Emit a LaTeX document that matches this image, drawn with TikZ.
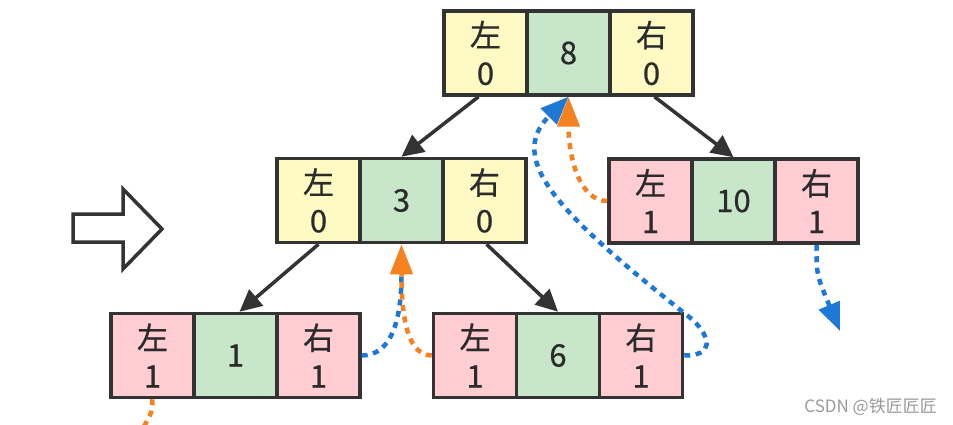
\documentclass[tikz,border=0pt]{standalone}
\usepackage{fontspec}
\setmainfont{Noto Sans CJK SC}[BoldFont=Noto Sans CJK SC,BoldFeatures={FakeBold=0.6}]
\usetikzlibrary{arrows.meta}
\definecolor{cyel}{HTML}{FFF9C4}
\definecolor{cgrn}{HTML}{C8E6C9}
\definecolor{cpnk}{HTML}{FFCDD2}
\definecolor{cborder}{HTML}{333333}
\definecolor{ctext}{HTML}{2B2B2B}
\definecolor{corg}{HTML}{F5821F}
\definecolor{cblu}{HTML}{1E78D6}
\definecolor{cgray}{HTML}{9A9A9A}
\begin{document}
\begin{tikzpicture}[x=1pt,y=-1pt,
  cell/.style={draw=cborder,line width=3.5pt,minimum width=83pt,minimum height=84pt,
    inner sep=0pt,align=center,text=ctext,font=\fontsize{31}{38}\selectfont\bfseries},
  ycell/.style={cell,fill=cyel},
  gcell/.style={cell,fill=cgrn},
  pcell/.style={cell,fill=cpnk},
  barr/.style={draw=cborder,line width=3.5pt,-{Triangle[length=22pt,width=21pt]}},
  odot/.style={draw=corg,line width=4.5pt,dash pattern=on 6pt off 5.5pt},
  bdot/.style={draw=cblu,line width=4.5pt,dash pattern=on 6pt off 5.5pt},
  otip/.style={-{Triangle[length=30pt,width=22pt,fill=corg,color=corg]}},
  btip/.style={-{Triangle[length=28pt,width=22pt,fill=cblu,color=cblu]}}
]
\useasboundingbox (0,0) rectangle (953,425);
\fill[white] (0,0) rectangle (953,425);

% big hollow arrow
\draw[cborder,line width=3.5pt,line join=miter]
  (73,214) -- (123,214) -- (123,189) -- (162,229) -- (123,269) -- (123,242) -- (73,242) -- cycle;

% top node 8
\node[ycell] (tl) at (485.5,53) {左\\0};
\node[gcell] (tm) at (568.5,53) {\raisebox{-3pt}{8}};
\node[ycell] (tr) at (651.5,53) {右\\0};

% node 3
\node[ycell] (al) at (318.5,200.5) {左\\0};
\node[gcell] (am) at (401.5,200.5) {\raisebox{-4pt}{3}};
\node[ycell] (ar) at (484.5,200.5) {右\\0};

% node 10
\node[pcell] (bl) at (650.5,201) {左\\1};
\node[gcell] (bm) at (733.5,201) {\raisebox{-4pt}{10}};
\node[pcell] (br) at (816.5,201) {右\\1};

% node 1
\node[pcell] (cl) at (152.5,355.5) {左\\1};
\node[gcell] (cm) at (235.5,355.5) {\raisebox{-4pt}{1}};
\node[pcell] (cr) at (318.5,355.5) {右\\1};

% node 6
\node[pcell] (dl) at (475,355.5) {左\\1};
\node[gcell] (dm) at (558,355.5) {\raisebox{-4pt}{6}};
\node[pcell] (dr) at (641,355.5) {右\\1};

% black tree arrows
\draw[barr] ([xshift=-7pt]tl.south) -- (am.north);
\draw[barr] ([xshift=3pt]tr.south) -- (bm.north);
\draw[barr] (al.south) -- ([xshift=4pt]cm.north);
\draw[barr] ([xshift=2pt]ar.south) -- (dm.north);

% free ends
\coordinate (oend) at (142,430);
\coordinate (bend) at (840,331);

% blue dotted threads
\draw[bdot] (cr.east) .. controls +(30,0) and +(0,45) .. ([yshift=-30pt]am.south);
\draw[bdot,btip] (dr.east) .. controls +(30,0) and +(18,18) .. (693,320)
   .. controls (560,215) and (505,160) .. (tm.south);
\draw[bdot,btip] (br.south) .. controls +(0,30) .. (bend);

% orange dotted threads
\draw[odot,otip] (dl.west) .. controls +(-28,0) and +(0,60) .. (am.south);
\draw[odot,otip] (bl.west) .. controls +(-28,0) and +(0,60) .. (tm.south);
\draw[odot] (cl.south) .. controls +(0,12) .. (oend);

% watermark
\node[anchor=east,text=cgray,font=\fontsize{17}{17}\selectfont,inner sep=0pt] (wm) at (937,407) {CSDN @铁匠匠匠};
\end{tikzpicture}
\end{document}
